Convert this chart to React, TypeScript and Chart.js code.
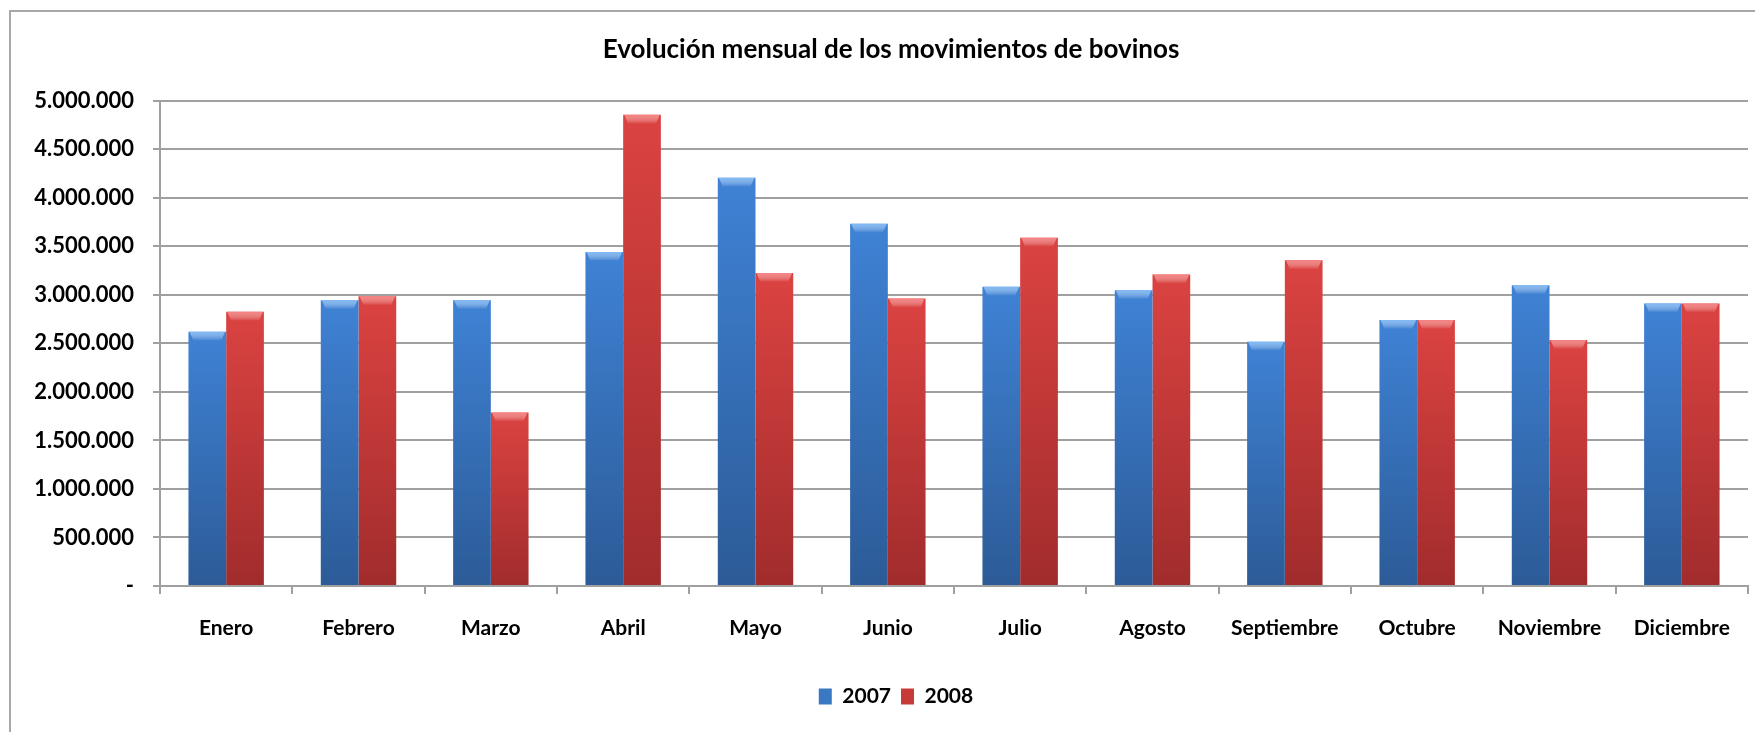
import React, { useEffect, useRef } from "react";
import { Chart, registerables } from "chart.js";

Chart.register(...registerables);

const months = [
  "Enero", "Febrero", "Marzo", "Abril", "Mayo", "Junio",
  "Julio", "Agosto", "Septiembre", "Octubre", "Noviembre", "Diciembre",
];
const series2007 = [
  2620000, 2945000, 2945000, 3442000, 4205000, 3733000,
  3082000, 3048000, 2517000, 2740000, 3099000, 2911000,
];
const series2008 = [
  2825000, 2986000, 1788000, 4855000, 3226000, 2962000,
  3589000, 3209000, 3356000, 2740000, 2534000, 2911000,
];
const seriesLabels = ["2007", "2008"];
const yMax = 5000000;
const yStep = 500000;
const titleText = "Evolución mensual de los movimientos de bovinos";

const FONT = "Lato, 'Open Sans', 'DejaVu Sans', sans-serif";

function fmt(v: number): string {
  if (v === 0) return "-";
  return String(Math.round(v)).replace(/\B(?=(\d{3})+(?!\d))/g, ".");
}

export default function App() {
  const ref = useRef<HTMLCanvasElement>(null);

  useEffect(() => {
    document.body.style.margin = "0";
    const canvas = ref.current;
    if (!canvas) return;

    const barGrad = (top: string, bottom: string) => (c: any) => {
      const chart = c.chart;
      const ys = chart.scales?.y;
      if (!chart.chartArea || !ys || c.raw == null) return top;
      const yTop = ys.getPixelForValue(c.raw);
      const yBase = ys.getPixelForValue(0);
      const g = chart.ctx.createLinearGradient(0, yTop, 0, yBase);
      g.addColorStop(0, top);
      g.addColorStop(1, bottom);
      return g;
    };

    const capPlugin = {
      id: "barCaps",
      afterLayout(chart: any) {
        const lg = chart.legend;
        if (lg) {
          lg.left += 22;
          lg.right += 22;
        }
        const tb = chart.titleBlock;
        if (tb) {
          tb.left += 17;
          tb.right += 17;
        }
      },
      afterDatasetsDraw(chart: any) {
        const ctx = chart.ctx;
        const caps = ["rgba(140,195,250,0.85)", "rgba(250,140,140,0.85)"];
        chart.data.datasets.forEach((_d: any, di: number) => {
          const meta = chart.getDatasetMeta(di);
          meta.data.forEach((el: any) => {
            const { x, y, width } = el.getProps(["x", "y", "width"], true);
            const l = x - width / 2;
            const r = x + width / 2;
            const h = 9;
            ctx.save();
            const g = ctx.createLinearGradient(0, y, 0, y + h);
            g.addColorStop(0, caps[di]);
            g.addColorStop(1, "rgba(255,255,255,0)");
            ctx.fillStyle = g;
            ctx.beginPath();
            ctx.moveTo(l + 1, y);
            ctx.lineTo(r - 1, y);
            ctx.lineTo(r - 5, y + h);
            ctx.lineTo(l + 5, y + h);
            ctx.closePath();
            ctx.fill();
            ctx.restore();
          });
        });
      },
    };

    const chart = new Chart(canvas, {
      type: "bar",
      data: {
        labels: months,
        datasets: [
          {
            label: seriesLabels[0],
            data: series2007,
            backgroundColor: barGrad("#3f82d5", "#2c5b97"),
            borderWidth: 0,
            categoryPercentage: 0.57,
            barPercentage: 1.0,
          },
          {
            label: seriesLabels[1],
            data: series2008,
            backgroundColor: barGrad("#db4341", "#a12c2c"),
            borderWidth: 0,
            categoryPercentage: 0.57,
            barPercentage: 1.0,
          },
        ],
      },
      options: {
        animation: false,
        responsive: false,
        maintainAspectRatio: false,
        devicePixelRatio: 1,
        layout: { padding: { left: 0, right: 7, top: 0, bottom: 15 } },
        plugins: {
          title: {
            display: true,
            text: titleText,
            color: "#000",
            font: { family: FONT, size: 26, weight: "bold" },
            padding: { top: 34, bottom: 35.5 },
          },
          legend: {
            position: "bottom",
            labels: {
              color: "#000",
              font: { family: FONT, size: 21, weight: "bold" },
              boxWidth: 13,
              boxHeight: 16,
              padding: 10,
              generateLabels: (ch: any) => {
                const cols = ["#3b78c4", "#c73a38"];
                return ch.data.datasets.map((ds: any, i: number) => ({
                  text: ds.label,
                  fillStyle: cols[i],
                  strokeStyle: cols[i],
                  lineWidth: 0,
                  hidden: false,
                  datasetIndex: i,
                  fontColor: "#000",
                }));
              },
            },
          },
          tooltip: { enabled: false },
        },
        scales: {
          x: {
            grid: {
              display: true,
              drawOnChartArea: false,
              drawTicks: true,
              tickLength: 8,
              color: "#a0a0a0",
              lineWidth: 2,
              offset: true,
            },
            border: { display: true, color: "#a0a0a0", width: 2 },
            ticks: {
              color: "#000",
              font: { family: FONT, size: 21, weight: "bold" },
              padding: 22,
              maxRotation: 0,
              autoSkip: false,
            },
            afterFit: (s: any) => {
              s.height = 90;
            },
          },
          y: {
            min: 0,
            max: yMax,
            grid: {
              color: "#a0a0a0",
              lineWidth: 2,
              drawTicks: true,
              tickLength: 7,
            },
            border: { display: true, color: "#a0a0a0", width: 2 },
            ticks: {
              stepSize: yStep,
              color: "#000",
              font: { family: FONT, size: 22, weight: "bold" },
              padding: 19,
              callback: (v: any) => fmt(Number(v)),
            },
            afterFit: (s: any) => {
              s.width = 160;
            },
          },
        },
      },
      plugins: [capPlugin],
    });

    return () => chart.destroy();
  }, []);

  return (
    <div
      style={{
        position: "relative",
        width: 1755,
        height: 732,
        overflow: "hidden",
        background: "#fff",
      }}
    >
      <canvas
        ref={ref}
        width={1755}
        height={732}
        style={{ display: "block", width: 1755, height: 732 }}
      />
      <div
        style={{
          position: "absolute",
          left: 9,
          top: 10,
          width: 2000,
          height: 1000,
          borderTop: "2px solid #a8a8a8",
          borderLeft: "2px solid #a8a8a8",
          pointerEvents: "none",
        }}
      />
    </div>
  );
}
